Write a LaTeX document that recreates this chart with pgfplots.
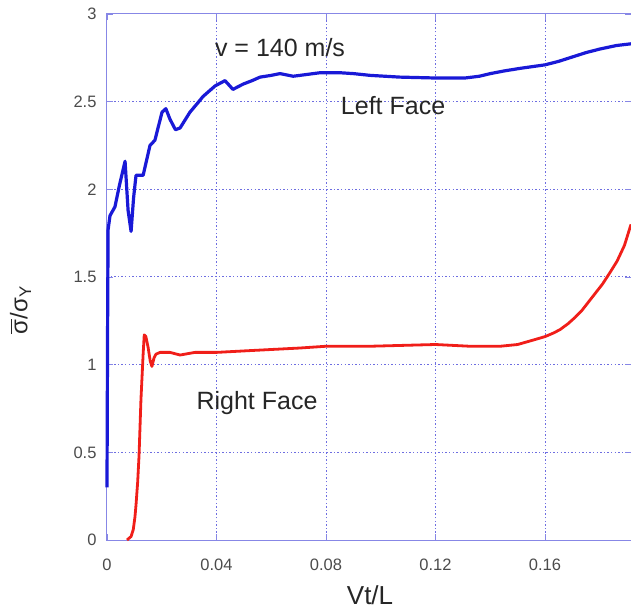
\documentclass[border=0pt]{standalone}
\usepackage{pgfplots}
\pgfplotsset{compat=1.18}
\usepackage{fontspec}
\setmainfont{Liberation Sans}

\definecolor{gridblue}{RGB}{110,110,225}
\definecolor{frameblue}{RGB}{135,135,230}
\definecolor{curveblue}{RGB}{25,25,215}
\definecolor{curvered}{RGB}{240,30,25}
\definecolor{ticktext}{RGB}{75,75,75}
\newcommand{\sigbar}{\vbox{\hrule height 1.4pt \kern 2.5pt \hbox{σ}}}

\begin{document}
\begin{tikzpicture}
\begin{axis}[
    scale only axis,
    width=524pt, height=526pt,
    xmin=0, xmax=0.1914,
    ymin=0, ymax=3,
    xtick={0,0.04,0.08,0.12,0.16},
    ytick={0,0.5,1,1.5,2,2.5,3},
    scaled x ticks=false,
    xticklabel style={/pgf/number format/fixed, /pgf/number format/precision=2, yshift=-15pt},
    yticklabel style={xshift=-7pt},
    /pgf/number format/assume math mode=true,
    tick label style={font=\fontsize{16.5}{18}\selectfont, text=ticktext},
    tick style={frameblue, thick},
    major tick length=6pt,
    tick align=inside,
    axis line style={frameblue, line width=1pt},
    grid=major,
    grid style={gridblue, line width=1pt, dash pattern=on 1.4pt off 2.2pt},
    clip=false,
    xlabel={Vt/L},
    xlabel style={font=\fontsize{26}{29}\selectfont, text=black!85, at={(axis description cs:0.502,-0.104)}, anchor=center},
    ylabel={\sigbar/σ\textsubscript{Y}},
    ylabel style={font=\fontsize{24}{28}\selectfont, text=black!85, at={(axis description cs:-0.165,0.437)}, anchor=center, rotate=0},
]
% Left face
\addplot[curveblue, line width=3.2pt, line join=round] coordinates {
(0,0.30) (0.0002,1.16) (0.0004,1.77) (0.0011,1.85) (0.0029,1.90) (0.0045,2.02) (0.0066,2.16)
(0.0077,1.88) (0.0088,1.76) (0.0097,1.95) (0.0106,2.08) (0.0132,2.08) (0.0157,2.25)
(0.0175,2.28) (0.0201,2.44) (0.0215,2.46) (0.0230,2.40) (0.0250,2.34) (0.0267,2.35)
(0.0303,2.44) (0.0330,2.49) (0.0351,2.53) (0.0395,2.59) (0.0431,2.62) (0.0460,2.57)
(0.0497,2.60) (0.0530,2.62) (0.0559,2.64) (0.0600,2.65) (0.0632,2.66) (0.0680,2.645) (0.0705,2.65)
(0.0778,2.665) (0.0851,2.665) (0.0900,2.66) (0.0961,2.65) (0.1070,2.64) (0.1198,2.635)
(0.1308,2.635) (0.1360,2.645) (0.1400,2.66) (0.1450,2.675) (0.1509,2.69) (0.1600,2.71) (0.1650,2.73) (0.1690,2.75)
(0.1750,2.78) (0.1800,2.80) (0.1860,2.82) (0.1914,2.83)
};
% Right face
\addplot[curvered, line width=2.8pt, line join=round] coordinates {
(0.0073,0) (0.0088,0.02) (0.0096,0.06) (0.0102,0.13) (0.0106,0.20) (0.0112,0.33) (0.0117,0.48) (0.0124,0.80)
(0.0132,1.06) (0.0136,1.17) (0.0142,1.16) (0.0150,1.10) (0.0158,1.02) (0.0164,0.99) (0.0172,1.04) (0.0179,1.06)
(0.0194,1.07) (0.0230,1.07) (0.0267,1.055) (0.0321,1.07) (0.0400,1.07)
(0.0520,1.08) (0.0705,1.095) (0.0800,1.105) (0.0960,1.105) (0.1200,1.115)
(0.1326,1.105) (0.1436,1.105) (0.1500,1.115) (0.1545,1.135) (0.1600,1.16) (0.1630,1.18) (0.1655,1.20)
(0.1685,1.235) (0.1710,1.27) (0.1735,1.31) (0.1760,1.36) (0.1785,1.41) (0.1810,1.46) (0.1835,1.52)
(0.1863,1.59) (0.1890,1.68) (0.1914,1.80)
};
\node[font=\fontsize{25}{28}\selectfont, text=black!85] at (axis cs:0.0632,2.81) {v = 140 m/s};
\node[font=\fontsize{25}{28}\selectfont, text=black!85] at (axis cs:0.1045,2.48) {Left Face};
\node[font=\fontsize{25}{28}\selectfont, text=black!85] at (axis cs:0.0548,0.78) {Right Face};
\coordinate (tl) at (rel axis cs:0,1);
\coordinate (br) at (rel axis cs:1,0);
\end{axis}
\pgfresetboundingbox
\path ([xshift=-107pt,yshift=14pt]tl) rectangle ([yshift=-73pt]br);
\end{tikzpicture}
\end{document}
